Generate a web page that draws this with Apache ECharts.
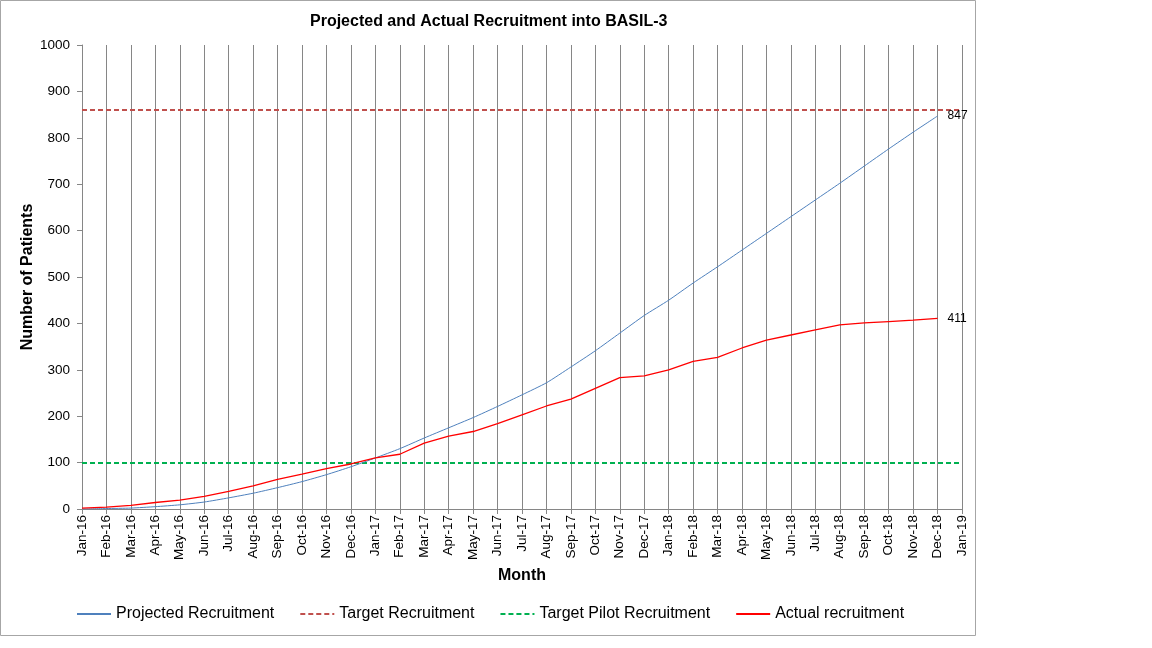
<!DOCTYPE html>
<html>
<head>
<meta charset="utf-8">
<script src="https://cdn.jsdelivr.net/npm/echarts@6/dist/echarts.min.js"></script>
<style>html,body{margin:0;padding:0;background:#fff}#c{width:1152px;height:648px}</style>
</head>
<body>
<div id="c"></div>
<script>
const months = ["Jan-16","Feb-16","Mar-16","Apr-16","May-16","Jun-16","Jul-16","Aug-16","Sep-16","Oct-16","Nov-16","Dec-16",
"Jan-17","Feb-17","Mar-17","Apr-17","May-17","Jun-17","Jul-17","Aug-17","Sep-17","Oct-17","Nov-17","Dec-17",
"Jan-18","Feb-18","Mar-18","Apr-18","May-18","Jun-18","Jul-18","Aug-18","Sep-18","Oct-18","Nov-18","Dec-18","Jan-19"];
const projected = [0,1,2,5,9,15,24,34,46,59,74,91,110,130,153,175,197,221,246,272,306,341,379,417,450,487,522,558,594,630,666,702,739,776,812,847];
const actual = [2,4,8,14,19,27,38,50,64,75,87,97,110,118,142,157,167,184,203,222,237,260,283,287,300,318,327,347,364,375,386,397,401,404,407,411];
const targetRecruitment = 860;
const targetPilotRecruitment = 100;
const yTicks = {min:0, max:1000, interval:100};

const font = 'Arial, "Liberation Sans", sans-serif';
const chart = echarts.init(document.getElementById('c'), null, {renderer:'canvas'});
chart.setOption({
  animation:false,
  backgroundColor:'#fff',
  graphic:[{type:'rect', shape:{x:0.5,y:0.5,width:975,height:635}, style:{fill:'none', stroke:'#a6a6a6', lineWidth:1}, silent:true}],
  title:{text:'Projected and Actual Recruitment into BASIL-3', left:305, top:9,
    textStyle:{fontFamily:font, fontSize:16, fontWeight:'bold', color:'#000'}},
  legend:{left:76, top:606, padding:0, itemWidth:34, itemHeight:2, itemGap:25,
    textStyle:{fontFamily:font, fontSize:16, color:'#000'},
    data:['Projected Recruitment','Target Recruitment','Target Pilot Recruitment','Actual recruitment']},
  grid:{left:82, right:190, top:45, bottom:139, containLabel:false},
  xAxis:{type:'category', data:months, boundaryGap:false,
    name:'Month', nameLocation:'middle', nameGap:58,
    nameTextStyle:{fontFamily:font, fontSize:16, fontWeight:'bold', color:'#000'},
    axisLine:{lineStyle:{color:'#868686'}},
    axisTick:{show:true, inside:false, length:5, lineStyle:{color:'#868686'}},
    axisLabel:{rotate:90, interval:0, fontFamily:font, fontSize:13.5, color:'#000', margin:6},
    splitLine:{show:true, interval:0, lineStyle:{color:'#868686', width:1}}},
  yAxis:{type:'value', min:yTicks.min, max:yTicks.max, interval:yTicks.interval,
    name:'Number of Patients', nameLocation:'middle', nameGap:46, nameRotate:90, nameMoveOverlap:false,
    nameTextStyle:{fontFamily:font, fontSize:16, fontWeight:'bold', color:'#000'},
    axisLine:{show:true, lineStyle:{color:'#868686'}},
    axisTick:{show:true, length:5, lineStyle:{color:'#868686'}},
    axisLabel:{fontFamily:font, fontSize:13.5, color:'#000', margin:12, formatter:function(v){return String(v);}},
    splitLine:{show:false}},
  series:[
    {name:'Projected Recruitment', type:'line', data:projected, symbol:'none', smooth:0.2,
      lineStyle:{color:'#4F81BD', width:1}, itemStyle:{color:'#4F81BD'},
      endLabel:{show:true, formatter:'{c}', distance:10, fontFamily:font, fontSize:12, color:'#000'}, z:5},
    {name:'Target Recruitment', type:'line', data:[], symbol:'none',
      lineStyle:{color:'#C0504D', width:2, type:[5,3]}, itemStyle:{color:'#C0504D'},
      markLine:{silent:true, symbol:'none', label:{show:false},
        lineStyle:{color:'#C0504D', width:2, type:[5,3]}, data:[{yAxis:targetRecruitment}]}},
    {name:'Target Pilot Recruitment', type:'line', data:[], symbol:'none',
      lineStyle:{color:'#00B050', width:2, type:[5,3]}, itemStyle:{color:'#00B050'},
      markLine:{silent:true, symbol:'none', label:{show:false},
        lineStyle:{color:'#00B050', width:2, type:[5,3]}, data:[{yAxis:targetPilotRecruitment}]}},
    {name:'Actual recruitment', type:'line', data:actual, symbol:'none',
      lineStyle:{color:'#FF0000', width:1.3}, itemStyle:{color:'#FF0000'},
      endLabel:{show:true, formatter:'{c}', distance:10, fontFamily:font, fontSize:12, color:'#000'}, z:6}
  ]
});
</script>
</body>
</html>
